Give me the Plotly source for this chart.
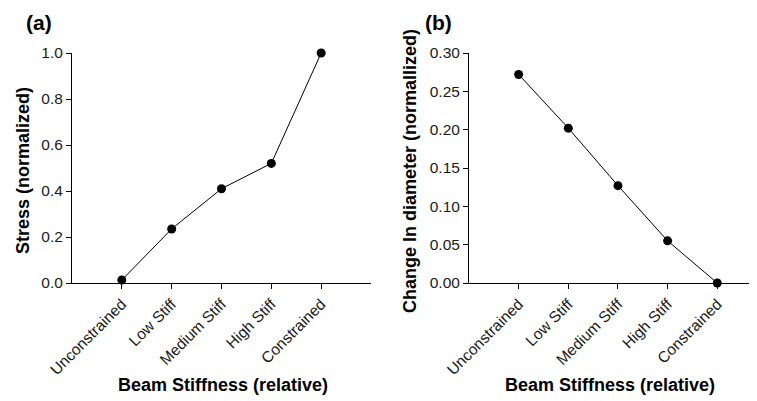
import plotly.graph_objects as go

categories = ["Unconstrained", "Low Stiff", "Medium Stiff", "High Stiff", "Constrained"]
stress = [0.013, 0.235, 0.41, 0.52, 1.0]
diameter_change = [0.272, 0.202, 0.127, 0.055, 0.0]
stress_ticks = [0.0, 0.2, 0.4, 0.6, 0.8, 1.0]
stress_tick_labels = ["0.0", "0.2", "0.4", "0.6", "0.8", "1.0"]
diam_ticks = [0.0, 0.05, 0.10, 0.15, 0.20, 0.25, 0.30]
diam_tick_labels = ["0.00", "0.05", "0.10", "0.15", "0.20", "0.25", "0.30"]

OFF = 8  # page body margin
W, H = 757 - OFF, 401 - OFF
fig = go.Figure()

line_style = dict(color="black", width=1)
marker_style = dict(color="black", size=9, symbol="circle")

fig.add_trace(go.Scatter(x=categories, y=stress, mode="lines+markers",
                         line=line_style, marker=marker_style,
                         xaxis="x", yaxis="y", cliponaxis=False, showlegend=False))
fig.add_trace(go.Scatter(x=categories, y=diameter_change, mode="lines+markers",
                         line=line_style, marker=marker_style,
                         xaxis="x2", yaxis="y2", cliponaxis=False, showlegend=False))

def px_x(p):
    return (p - OFF) / W

def px_y(p):
    return 1 - (p - OFF) / H

FONT = "Arial, Liberation Sans, sans-serif"
ydom = [px_y(283), px_y(53)]
tick_font = dict(family=FONT, size=15.5, color="#1a1a1a")
axis_common = dict(showline=True, linecolor="black", linewidth=1, ticks="outside",
                   ticklen=5, tickcolor="black", showgrid=False, zeroline=False,
                   tickfont=tick_font, automargin=False)

fig.update_layout(
    width=W, height=H,
    margin=dict(l=0, r=0, t=0, b=0, autoexpand=False),
    paper_bgcolor="white", plot_bgcolor="white",
    xaxis=dict(domain=[px_x(72), px_x(371)], anchor="y", type="category",
               categoryorder="array", categoryarray=categories,
               range=[-1, 5], tickangle=-45, **axis_common),
    yaxis=dict(domain=ydom, anchor="x", range=[0, 1.0], tickvals=stress_ticks,
               ticktext=stress_tick_labels, **axis_common),
    xaxis2=dict(domain=[px_x(469), 1.0], anchor="y2", type="category",
                categoryorder="array", categoryarray=categories,
                range=[-1, 4.8], tickangle=-45, **axis_common),
    yaxis2=dict(domain=ydom, anchor="x2", range=[0, 0.30], tickvals=diam_ticks,
                ticktext=diam_tick_labels, **axis_common),
)

title_font = dict(family=FONT, size=18, color="black")
annotations = [
    dict(text="<b>(a)</b>", x=px_x(39), y=px_y(23), font=dict(family=FONT, size=21, color="black")),
    dict(text="<b>(b)</b>", x=px_x(438), y=px_y(23), font=dict(family=FONT, size=21, color="black")),
    dict(text="<b>Stress (normalized)</b>", x=px_x(23), y=px_y(171), textangle=-90, font=title_font),
    dict(text="<b>Change In diameter (normallized)</b>", x=px_x(410), y=px_y(171), textangle=-90,
         font=title_font),
    dict(text="<b>Beam Stiffness (relative)</b>", x=px_x(223), y=px_y(385), font=title_font),
    dict(text="<b>Beam Stiffness (relative)</b>", x=px_x(610), y=px_y(385), font=title_font),
]
for a in annotations:
    a.update(xref="paper", yref="paper", showarrow=False, xanchor="center", yanchor="middle")
fig.update_layout(annotations=annotations)

fig.write_html("out.html")
